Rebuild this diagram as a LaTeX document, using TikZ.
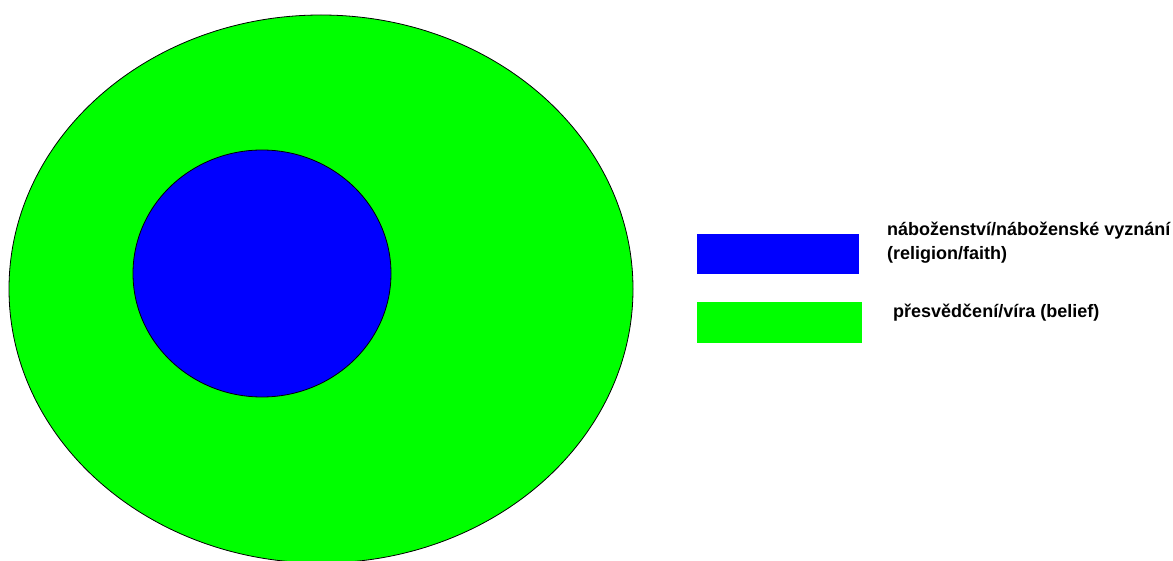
\documentclass[tikz,border=0pt]{standalone}
\usepackage{fontspec}
\setmainfont{Liberation Sans}
\definecolor{pgreen}{RGB}{0,255,0}
\definecolor{pblue}{RGB}{0,0,255}
\begin{document}
\begin{tikzpicture}[x=1pt,y=-1pt,
  region/.style={draw=black, line width=0.8pt},
  swatch/.style={draw=none, inner sep=0pt},
  legendtext/.style={anchor=base west, inner sep=0pt, font=\bfseries\fontsize{18}{24}\selectfont}]
\useasboundingbox (0,0) rectangle (1173,561);
\fill[white] (0,0) rectangle (1173,561);
\path[region, fill=pgreen] (321,289) ellipse [x radius=312, y radius=274];
\path[region, fill=pblue] (262,273.5) ellipse [x radius=129, y radius=123.5];
\fill[pblue] (697,234) rectangle (859,274);
\node[swatch] (sblue) at (778,254) {};
\fill[pgreen] (697,302) rectangle (862,343);
\node[swatch] (sgreen) at (779.5,322.5) {};
\node[legendtext] (tblue) at (887,236) {náboženství/náboženské vyznání};
\node[legendtext] (tbluetwo) at (887,260) {(religion/faith)};
\node[legendtext] (tgreen) at (893,318) {přesvědčení/víra (belief)};
\end{tikzpicture}
\end{document}
